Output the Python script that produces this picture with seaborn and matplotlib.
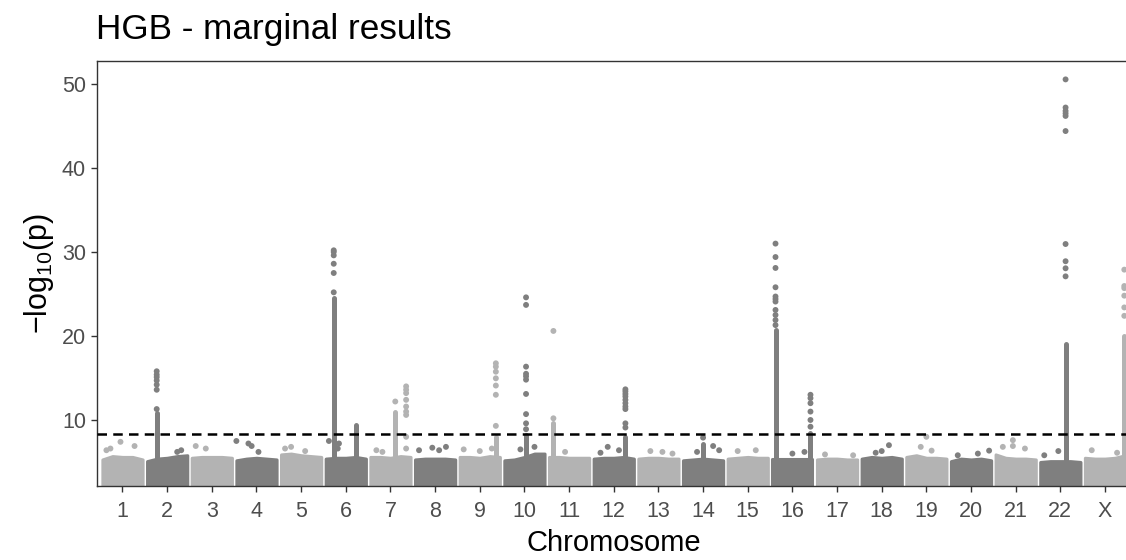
import numpy as np
import pandas as pd
import matplotlib
matplotlib.use("Agg")
import matplotlib.pyplot as plt
import seaborn as sns

# ---------------- data ----------------
chromosomes = [str(i) for i in range(1, 23)] + ["X"]

# top of the dense background cloud (-log10 p) across each chromosome, at relative positions
band_positions = [0.0, 0.25, 0.5, 0.75, 1.0]
band_tops = [
    [5.3, 5.7, 5.6, 5.6, 5.3],   # 1
    [5.1, 5.4, 5.5, 5.7, 5.8],   # 2
    [5.5, 5.6, 5.6, 5.6, 5.5],   # 3
    [5.2, 5.4, 5.5, 5.4, 5.3],   # 4
    [5.9, 6.0, 5.8, 5.7, 5.6],   # 5
    [5.4, 5.5, 5.5, 5.6, 5.4],   # 6
    [5.6, 5.6, 5.5, 5.7, 5.6],   # 7
    [5.3, 5.4, 5.4, 5.4, 5.3],   # 8
    [5.6, 5.6, 5.5, 5.7, 5.6],   # 9
    [5.2, 5.3, 5.6, 6.0, 6.0],   # 10
    [5.6, 5.6, 5.5, 5.5, 5.5],   # 11
    [5.4, 5.5, 5.5, 5.6, 5.4],   # 12
    [5.4, 5.5, 5.5, 5.4, 5.4],   # 13
    [5.2, 5.3, 5.4, 5.3, 5.2],   # 14
    [5.4, 5.5, 5.6, 5.5, 5.5],   # 15
    [5.3, 5.3, 5.3, 5.3, 5.3],   # 16
    [5.3, 5.4, 5.4, 5.3, 5.3],   # 17
    [5.4, 5.6, 5.5, 5.6, 5.4],   # 18
    [5.6, 5.8, 5.5, 5.5, 5.4],   # 19
    [5.1, 5.4, 5.3, 5.4, 5.2],   # 20
    [5.9, 5.5, 5.4, 5.4, 5.3],   # 21
    [5.0, 5.1, 5.1, 5.1, 5.0],   # 22
    [5.5, 5.4, 5.4, 5.5, 5.8],   # X
]

# dense stacks of SNPs (drawn as continuous columns)
stack_chrom = ["2", "6", "6", "7", "9", "10", "11", "12", "14", "16", "16", "22", "X"]
stack_pos   = [0.24, 0.20, 0.76, 0.62, 0.90, 0.54, 0.11, 0.79, 0.50, 0.08, 0.95, 0.63, 0.98]
stack_low   = [5.5, 5.5, 5.6, 5.6, 5.6, 5.5, 5.6, 5.5, 5.3, 5.3, 5.4, 5.0, 5.6]
stack_high  = [10.8, 24.5, 9.4, 10.9, 8.0, 8.2, 9.6, 8.0, 7.2, 20.7, 8.5, 19.1, 20.0]

# individual SNPs standing out of the cloud
snp_chrom = (["2"] * 7 + ["6"] * 6 + ["7"] * 10 + ["9"] * 7 + ["10"] * 10 + ["11"] * 2
             + ["12"] * 10 + ["14"] + ["16"] * 11 + ["16"] * 6 + ["22"] * 10 + ["X"] * 6)
snp_pos = ([0.24] * 7 + [0.20] * 6 + [0.62] + [0.89] * 9 + [0.90] * 7 + [0.54] * 10 + [0.11] * 2
           + [0.79] * 10 + [0.50] + [0.08] * 11 + [0.95] * 6 + [0.63] * 10 + [0.98] * 6)
snp_val = ([11.3, 13.6, 14.2, 14.7, 15.1, 15.4, 15.8]
           + [25.2, 27.5, 28.6, 29.6, 30.0, 30.2]
           + [12.2, 14.0, 13.6, 13.2, 12.4, 11.6, 11.0, 10.6, 8.0, 6.6]
           + [16.75, 16.35, 15.75, 14.96, 14.1, 13.0, 9.3]
           + [24.6, 23.7, 16.35, 15.5, 15.2, 14.8, 13.1, 10.7, 9.6, 8.9]
           + [20.6, 10.2]
           + [13.65, 13.4, 13.1, 12.8, 12.4, 12.0, 11.6, 11.3, 9.6, 9.1]
           + [7.9]
           + [21.3, 21.9, 22.5, 23.1, 24.1, 24.4, 24.7, 25.8, 28.1, 29.4, 31.0]
           + [13.0, 12.6, 12.0, 11.0, 10.0, 9.2]
           + [27.1, 28.06, 28.9, 30.95, 44.4, 46.2, 46.5, 46.8, 47.2, 50.55]
           + [22.4, 23.4, 24.8, 25.7, 25.95, 27.9])

# background SNPs poking just above the cloud
bg_chrom = (["1"] * 4 + ["2"] * 2 + ["3"] * 2 + ["4"] * 4 + ["5"] * 3 + ["6"] * 3 + ["7"] * 2
            + ["8"] * 4 + ["9"] * 3 + ["10"] * 2 + ["11"] + ["12"] * 3 + ["13"] * 3 + ["14"] * 3
            + ["15"] * 2 + ["16"] * 2 + ["17"] * 2 + ["18"] * 3 + ["19"] * 3 + ["20"] * 3
            + ["21"] * 4 + ["22"] * 2 + ["X"] * 2)
bg_pos = ([0.2, 0.45, 0.8, 0.1] + [0.85, 0.75] + [0.1, 0.35] + [0.0, 0.3, 0.38, 0.55]
          + [0.25, 0.1, 0.6] + [0.08, 0.33, 0.3] + [0.15, 0.3] + [0.1, 0.43, 0.6, 0.77]
          + [0.1, 0.5, 0.8] + [0.4, 0.75] + [0.4] + [0.17, 0.35, 0.63] + [0.3, 0.6, 0.85]
          + [0.75, 0.9, 0.35] + [0.25, 0.7] + [0.5, 0.8] + [0.9, 0.2] + [0.35, 0.68, 0.5]
          + [0.5, 0.36, 0.63] + [0.17, 0.67, 0.95] + [0.18, 0.43, 0.43, 0.73] + [0.45, 0.1]
          + [0.17, 0.8])
bg_val = ([6.6, 7.4, 6.9, 6.4] + [6.4, 6.2] + [6.9, 6.6] + [7.5, 7.2, 6.9, 6.2]
          + [6.8, 6.6, 6.3] + [7.5, 7.2, 6.6] + [6.4, 6.2] + [6.4, 6.7, 6.4, 6.8]
          + [6.5, 6.3, 6.6] + [6.5, 6.8] + [6.2] + [6.1, 6.8, 6.4] + [6.3, 6.2, 6.0]
          + [6.9, 6.4, 6.2] + [6.3, 6.4] + [6.0, 6.2] + [5.8, 5.9] + [6.1, 7.0, 6.3]
          + [8.0, 6.8, 6.35] + [5.8, 6.0, 6.35] + [6.8, 7.6, 6.9, 6.6] + [6.3, 5.8]
          + [6.4, 6.1])

threshold = 8.33
y_min, y_max = 2.14, 52.74

# ---------------- styling ----------------
sns.set_theme(style="white")
plt.rcParams["font.family"] = ["Liberation Sans", "DejaVu Sans"]
plt.rcParams["mathtext.fontset"] = "custom"
plt.rcParams["mathtext.rm"] = "Liberation Sans"
plt.rcParams["mathtext.it"] = "Liberation Sans"

light, dark = "#b3b3b3", "#7f7f7f"
chrom_idx = {c: i for i, c in enumerate(chromosomes)}
chrom_col = {c: (light if i % 2 == 0 else dark) for i, c in enumerate(chromosomes)}
width = 0.9

def xpos(chrom, pos):
    return chrom_idx[chrom] + (pos - 0.5) * width

W, H = 1126, 560
fig = plt.figure(figsize=(W / 100, H / 100), dpi=100)
ax = fig.add_axes([96.5 / W, (H - 486) / H, (1131 - 96.5) / W, (486 - 61) / H])

# background clouds
for c, tops in zip(chromosomes, band_tops):
    xs = [xpos(c, p) for p in band_positions]
    ax.fill_between(xs, 2.0, tops, color=chrom_col[c], linewidth=2.2,
                    edgecolor=chrom_col[c], joinstyle="round", zorder=2)

# dense stacks
stacks = pd.DataFrame({"chrom": stack_chrom, "pos": stack_pos, "low": stack_low, "high": stack_high})
stacks["x"] = [xpos(c, p) for c, p in zip(stacks.chrom, stacks.pos)]
lc = ax.vlines(stacks.x, stacks.low, stacks.high,
               colors=[chrom_col[c] for c in stacks.chrom], linewidth=3.6, zorder=3)
lc.set_capstyle("round")

# individual points
pts = pd.DataFrame({"chrom": snp_chrom + bg_chrom, "pos": snp_pos + bg_pos, "p": snp_val + bg_val})
pts["x"] = [xpos(c, p) for c, p in zip(pts.chrom, pts.pos)]
pts["shade"] = ["light" if chrom_col[c] == light else "dark" for c in pts.chrom]
sns.scatterplot(data=pts, x="x", y="p", hue="shade", palette={"light": light, "dark": dark},
                s=18, linewidth=0, legend=False, ax=ax, zorder=4)

ax.axhline(threshold, color="black", linewidth=1.8, dashes=(3.8, 2.5), zorder=5)

ax.set_xlim(-0.582, 22.582)
ax.set_ylim(y_min, y_max)
ax.set_xticks(range(len(chromosomes)))
ax.set_xticklabels(chromosomes)
ax.set_yticks([10, 20, 30, 40, 50])
ax.tick_params(axis="both", which="both", direction="out", length=4, width=1.0,
               color="#333333", labelsize=15.5, labelcolor="#4d4d4d", bottom=True, left=True)
ax.tick_params(axis="x", pad=6.5)
ax.tick_params(axis="y", pad=3.5)
for s in ax.spines.values():
    s.set_color("#333333")
    s.set_linewidth(1.0)
ax.grid(False)

ax.set_xlabel("Chromosome", fontsize=21, color="black", labelpad=5)
ax.set_ylabel(r"$-\mathrm{log}_{10}(\mathrm{p})$", fontsize=22, color="black", labelpad=4)
fig.text(96.5 / W, 1 - 39 / H, "HGB - marginal results", fontsize=25.3, color="black",
         ha="left", va="baseline")

fig.savefig("out.png", dpi=100)
